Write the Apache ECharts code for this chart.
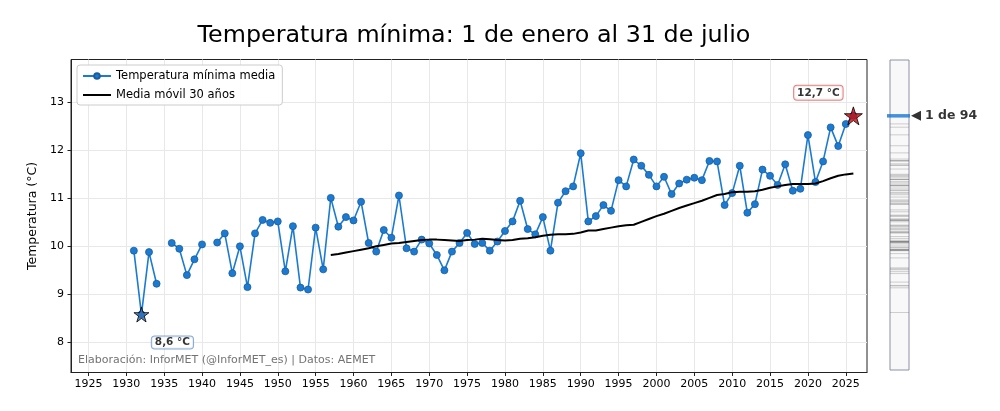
<!DOCTYPE html>
<html>
<head>
<meta charset="utf-8">
<script src="https://cdn.jsdelivr.net/npm/echarts@6/dist/echarts.min.js"></script>
<style>
html,body{margin:0;padding:0;background:#fff;}
#c{width:1000px;height:411px;}
</style>
</head>
<body>
<div id="c"></div>
<script>
// ---- data ----
const years = [
1931,1932,1933,1934,1935,1936,1937,1938,1939,1940,
1941,1942,1943,1944,1945,1946,1947,1948,1949,1950,
1951,1952,1953,1954,1955,1956,1957,1958,1959,1960,
1961,1962,1963,1964,1965,1966,1967,1968,1969,1970,
1971,1972,1973,1974,1975,1976,1977,1978,1979,1980,
1981,1982,1983,1984,1985,1986,1987,1988,1989,1990,
1991,1992,1993,1994,1995,1996,1997,1998,1999,2000,
2001,2002,2003,2004,2005,2006,2007,2008,2009,2010,
2011,2012,2013,2014,2015,2016,2017,2018,2019,2020,
2021,2022,2023,2024,2025,2026];
const tminMedia = [
9.90,8.57,9.87,9.21,null,10.06,9.94,9.39,9.72,10.03,
null,10.07,10.26,9.43,9.99,9.14,10.26,10.54,10.48,10.51,
9.47,10.41,9.13,9.09,10.38,9.51,11.00,10.40,10.60,10.53,
10.92,10.06,9.88,10.33,10.17,11.05,9.95,9.88,10.13,10.05,
9.81,9.49,9.88,10.06,10.27,10.04,10.06,9.90,10.09,10.31,
10.51,10.94,10.35,10.24,10.60,9.90,10.90,11.14,11.24,11.93,
10.51,10.62,10.85,10.73,11.37,11.24,11.80,11.67,11.48,11.24,
11.44,11.08,11.30,11.38,11.42,11.37,11.77,11.76,10.85,11.10,
11.67,10.69,10.87,11.59,11.46,11.27,11.70,11.15,11.19,12.31,
11.33,11.76,12.47,12.08,12.54,12.71];
const maYears = [
1957,1958,1959,1960,1961,1962,1963,1964,1965,1966,
1967,1968,1969,1970,1971,1972,1973,1974,1975,1976,
1977,1978,1979,1980,1981,1982,1983,1984,1985,1986,
1987,1988,1989,1990,1991,1992,1993,1994,1995,1996,
1997,1998,1999,2000,2001,2002,2003,2004,2005,2006,
2007,2008,2009,2010,2011,2012,2013,2014,2015,2016,
2017,2018,2019,2020,2021,2022,2023,2024,2025,2026];
const mediaMovil30 = [
9.81,9.83,9.86,9.89,9.92,9.95,9.99,10.02,10.05,10.06,
10.08,10.10,10.12,10.13,10.13,10.12,10.11,10.10,10.12,10.13,
10.15,10.14,10.12,10.11,10.12,10.15,10.16,10.18,10.21,10.23,
10.24,10.24,10.25,10.28,10.32,10.32,10.35,10.38,10.41,10.43,
10.44,10.50,10.56,10.62,10.67,10.73,10.79,10.84,10.89,10.94,
11.00,11.06,11.08,11.12,11.13,11.13,11.14,11.17,11.21,11.24,
11.27,11.29,11.29,11.29,11.30,11.35,11.41,11.46,11.49,11.51];
const xTicks = [1925,1930,1935,1940,1945,1950,1955,1960,1965,1970,1975,1980,1985,1990,1995,2000,2005,2010,2015,2020,2025];
const yTicks = [8,9,10,11,12,13];

// ---- derived ----
const valid = [];
years.forEach((y,i)=>{ if (tminMedia[i] !== null) valid.push([y, tminMedia[i]]); });
let minP = valid[0], maxP = valid[0];
valid.forEach(p=>{ if (p[1] < minP[1]) minP = p; if (p[1] > maxP[1]) maxP = p; });
const last = valid[valid.length-1];
const rank = valid.filter(p => p[1] >= last[1]).length;
const fmt = v => v.toFixed(1).replace('.', ',') + ' °C';

const lineData = years.map((y,i)=> [y, tminMedia[i] === null ? '-' : tminMedia[i]]);
const maData = maYears.map((y,i)=> [y, mediaMovil30[i]]);
const others = valid.filter(p => p !== last).map(p => [0.5, p[1]]);

const STAR = 'path://M50,0 L61.2,34.5 L97.6,34.5 L68.2,55.9 L79.4,90.5 L50,69.1 L20.6,90.5 L31.8,55.9 L2.4,34.5 L38.8,34.5 Z';
const F = 'DejaVu Sans';
const YMIN = 7.36, YMAX = 13.885;
const BLUE = '#1b7bd1';

const chart = echarts.init(document.getElementById('c'), null, {renderer:'canvas'});
chart.setOption({
  backgroundColor: '#fff',
  animation: false,
  textStyle: {fontFamily: F},
  title: {
    text: 'Temperatura mínima: 1 de enero al 31 de julio',
    left: 469, textAlign: 'center', top: 19,
    textStyle: {fontFamily: F, fontSize: 23.8, fontWeight: 'normal', color: '#000'}
  },
  legend: {
    left: 77, top: 65, orient: 'vertical',
    itemWidth: 28, itemHeight: 7, itemGap: 7,
    padding: [5, 7, 4, 5],
    backgroundColor: 'rgba(255,255,255,0.9)',
    borderColor: '#cccccc', borderWidth: 1, borderRadius: 3,
    textStyle: {fontFamily: F, fontSize: 11.5, color: '#000'},
    data: [
      {name: 'Temperatura mínima media'},
      {name: 'Media móvil 30 años', itemStyle: {color: 'rgba(0,0,0,0)', borderWidth: 0, opacity: 0}}
    ]
  },
  grid: [
    {left: 71, top: 59.5, right: 133, bottom: 38.5, show: true, borderColor: '#222', borderWidth: 1, backgroundColor: 'transparent'},
    {left: 890, top: 60, width: 19, height: 310, show: true, borderColor: '#8c90a6', borderWidth: 1, backgroundColor: '#f8f8f8'}
  ],
  xAxis: [
    {type: 'value', gridIndex: 0, min: 1922.7, max: 2027.8,
     axisLine: {show: true, lineStyle: {color: '#222'}},
     axisTick: {show: true, inside: false, length: 3.5, lineStyle: {color: '#222'}, customValues: xTicks},
     axisLabel: {show: true, customValues: xTicks, fontFamily: F, fontSize: 11, color: '#000', margin: 6, formatter: v => String(v)},
     splitLine: {show: true, lineStyle: {color: '#e8e8e8', width: 1}}},
    {type: 'value', gridIndex: 1, min: 0, max: 1, show: false}
  ],
  yAxis: [
    {type: 'value', gridIndex: 0, min: YMIN, max: YMAX,
     name: 'Temperatura (°C)', nameLocation: 'middle', nameGap: 29,
     nameTextStyle: {fontFamily: F, fontSize: 12.5, color: '#000'},
     axisLine: {show: true, lineStyle: {color: '#222'}},
     axisTick: {show: true, inside: false, length: 3.5, lineStyle: {color: '#222'}, customValues: yTicks},
     axisLabel: {show: true, customValues: yTicks, fontFamily: F, fontSize: 11, color: '#000', margin: 7},
     splitLine: {show: true, lineStyle: {color: '#e8e8e8', width: 1}}},
    {type: 'value', gridIndex: 1, min: YMIN, max: YMAX, show: false, splitLine: {show: false}}
  ],
  series: [
    {name: 'Temperatura mínima media', type: 'line', xAxisIndex: 0, yAxisIndex: 0,
     data: lineData, connectNulls: false,
     symbol: 'circle', symbolSize: 7, showSymbol: true,
     lineStyle: {color: BLUE, width: 1.6},
     itemStyle: {color: BLUE, borderColor: '#1a5c9e', borderWidth: 0.8}, z: 3},
    {name: 'Media móvil 30 años', type: 'line', xAxisIndex: 0, yAxisIndex: 0,
     data: maData, symbol: 'none', showSymbol: false,
     lineStyle: {color: '#000', width: 2}, itemStyle: {color: '#000'}, z: 4},
    {type: 'scatter', xAxisIndex: 0, yAxisIndex: 0, clip: false, z: 6,
     data: [minP], symbol: STAR, symbolSize: 15,
     itemStyle: {color: '#3a6fb0', borderColor: '#000', borderWidth: 1},
     label: {show: true, position: 'inside', offset: [31, 28], formatter: () => fmt(minP[1]),
       fontFamily: F, fontSize: 10.5, fontWeight: 'bold', color: '#000',
       backgroundColor: '#fff', borderColor: '#6b95cc', borderWidth: 1, borderRadius: 3, padding: [1, 3, 0, 3]}},
    {type: 'scatter', xAxisIndex: 0, yAxisIndex: 0, clip: false, z: 6,
     data: [maxP], symbol: STAR, symbolSize: 18,
     itemStyle: {color: '#cc0a0a', borderColor: '#000', borderWidth: 1},
     label: {show: true, position: 'inside', offset: [-35, -23], formatter: () => fmt(maxP[1]),
       fontFamily: F, fontSize: 10.5, fontWeight: 'bold', color: '#000',
       backgroundColor: '#fff', borderColor: '#e06060', borderWidth: 1, borderRadius: 3, padding: [2, 3, 1, 3]}},
    {type: 'scatter', xAxisIndex: 1, yAxisIndex: 1, clip: false, z: 2, silent: true,
     data: others, symbol: 'rect', symbolSize: [19, 1],
     itemStyle: {color: 'rgba(100,100,100,0.36)'}},
    {type: 'scatter', xAxisIndex: 1, yAxisIndex: 1, clip: false, z: 5,
     data: [[0.5, last[1]]], symbol: 'rect', symbolSize: [23, 3.5], symbolOffset: [-1, 0],
     itemStyle: {color: '#1677d2'}},
    {type: 'scatter', xAxisIndex: 1, yAxisIndex: 1, clip: false, z: 5,
     data: [[1, last[1]]], symbol: 'triangle', symbolSize: [10, 10], symbolRotate: 90, symbolOffset: [7, 0],
     itemStyle: {color: '#000'},
     label: {show: true, position: 'right', distance: 4, offset: [0, 0], formatter: () => rank + ' de ' + valid.length,
       fontFamily: F, fontSize: 12.5, fontWeight: 'bold', color: '#000'}}
  ],
  graphic: [
    {type: 'text', left: 78, top: 355, z: 10,
     style: {text: 'Elaboración: InforMET (@InforMET_es) | Datos: AEMET', fontFamily: F, fontSize: 11, fill: 'rgba(100,100,100,0.9)'}}
  ]
});
</script>
</body>
</html>
